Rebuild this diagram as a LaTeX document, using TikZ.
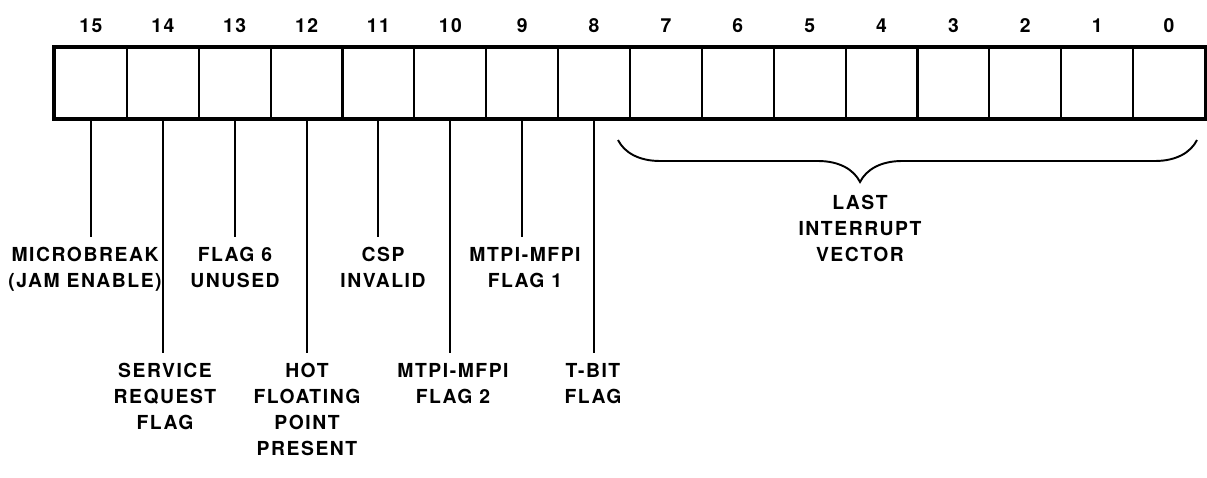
\documentclass[tikz,border=0pt]{standalone}
\usepackage{fontspec}
\newfontfamily\regfont[LetterSpace=8]{TeX Gyre Heros}
\usetikzlibrary{positioning,decorations.pathreplacing}

\begin{document}
\begin{tikzpicture}[x=0.02cm, y=-0.02cm, node distance=0.28cm,
    every node/.style={font=\regfont\bfseries\fontsize{11}{14.75}\selectfont},
    cell/.style={draw, line width=1.2pt, minimum width=1.4375cm, minimum height=1.4cm, inner sep=0pt},
    flag/.style={align=center, anchor=north, inner xsep=0pt, inner ysep=0.2cm},
    lead/.style={line width=1.1pt}]
    \useasboundingbox (0,0) rectangle (1207,477);
    \foreach \i in {0,...,15}{
      \node[cell] (b\i) at ({1205-71.875*(\i+0.5)},83) {};
      \node[inner sep=0pt, above=of b\i] (n\i) {\i};
    }
    \draw[line width=1.8pt] (b15.north west) rectangle (b0.south east);
    \node[flag] (l15) at (85,237) {MICROBREAK\\(JAM ENABLE)};
    \node[flag] (l14) at (165,353) {SERVICE\\REQUEST\\FLAG};
    \node[flag] (l13) at (235,237) {FLAG 6\\UNUSED};
    \node[flag] (l12) at (307,353) {HOT\\FLOATING\\POINT\\PRESENT};
    \node[flag] (l11) at (383,237) {CSP\\INVALID};
    \node[flag] (l10) at (453,353) {MTPI-MFPI\\FLAG 2};
    \node[flag] (l9) at (525,237) {MTPI-MFPI\\FLAG 1};
    \node[flag] (l8) at (593,353) {T-BIT\\FLAG};
    \foreach \i in {8,...,15}
      \draw[lead] (b\i.south) -- (b\i.south |- l\i.north);
    \coordinate (vs) at (618,140);
    \coordinate (ve) at (1197,140);
    \draw[lead, decorate, decoration={brace, mirror, amplitude=0.84cm, aspect=0.418}] (vs) -- (ve);
    \node[flag, inner ysep=0pt] (vec) at (860,195) {LAST\\INTERRUPT\\VECTOR};
  \end{tikzpicture}
\end{document}
